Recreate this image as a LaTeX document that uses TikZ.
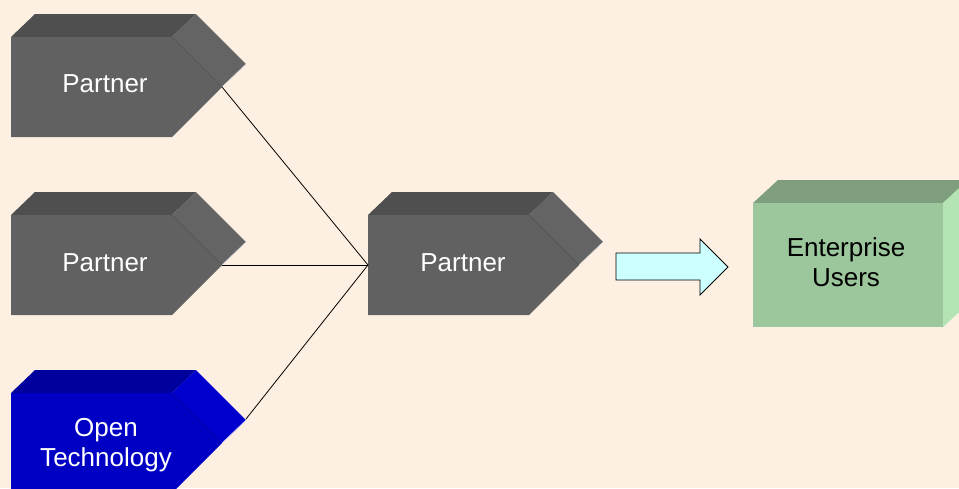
\documentclass[tikz,border=0pt]{standalone}
\usepackage{fontspec}
\setmainfont{Liberation Sans}
\definecolor{bg}{HTML}{FDF0E3}
\definecolor{gfront}{HTML}{616161}
\definecolor{gtop}{HTML}{4F4F4F}
\definecolor{gside}{HTML}{646464}
\definecolor{bfront}{HTML}{0000C4}
\definecolor{btop}{HTML}{00009C}
\definecolor{bside}{HTML}{0000CE}
\definecolor{efront}{HTML}{9CC69C}
\definecolor{etop}{HTML}{7E9E7E}
\definecolor{eside}{HTML}{B4E4B4}
\definecolor{arrowfill}{HTML}{CCFFFF}
% #1 left x, #2 front top y, #3 front, #4 top, #5 side
\newcommand{\myblock}[5]{%
  \fill[#4] (#1,#2) -- ({#1+24},{#2-23}) -- ({#1+185},{#2-23}) -- ({#1+161},#2) -- cycle;
  \fill[#5] ({#1+161},#2) -- ({#1+185},{#2-23}) -- ({#1+235},{#2+27}) -- ({#1+211},{#2+50}) -- cycle;
  \fill[#3] (#1,#2) -- ({#1+161},#2) -- ({#1+211},{#2+50}) -- ({#1+161},{#2+100}) -- (#1,{#2+100}) -- cycle;
  \draw[#3!80!black, line width=0.6pt] ({#1+161},#2) -- ({#1+211},{#2+50});
  \draw[white!75!#5, line width=0.6pt] ({#1+211},{#2+50}) -- ({#1+235},{#2+27});
}
\tikzset{
  lbl/.style={font=\fontsize{26}{30}\selectfont, align=center, inner sep=0pt},
  wire/.style={draw=black, line width=0.8pt},
}
\begin{document}
\begin{tikzpicture}[x=1pt,y=-1pt]
\fill[bg] (0,0) rectangle (959,488);
\useasboundingbox (0,0) rectangle (959,488);
\clip (0,0) rectangle (959,488);
% blocks
\myblock{11}{37}{gfront}{gtop}{gside}
\myblock{11}{215}{gfront}{gtop}{gside}
\myblock{11}{393}{bfront}{btop}{bside}
\myblock{368}{215}{gfront}{gtop}{gside}
% enterprise box
\fill[etop] (753,203) -- (778,180) -- (968,180) -- (943,203) -- cycle;
\fill[eside] (943,203) -- (968,180) -- (968,304) -- (943,327) -- cycle;
\fill[efront] (753,203) rectangle (943,327);
% anchor coordinates
\coordinate (t1) at (222,87);
\coordinate (t2) at (222,265);
\coordinate (t3) at (246,419);
\coordinate (cin) at (368,265);
% labels
\node[lbl, text=white] (p1) at (105,84) {Partner};
\node[lbl, text=white] (p2) at (105,263) {Partner};
\node[lbl, text=white] (ot) at (106,445) {Open\\Technology};
\node[lbl, text=white] (pc) at (463,263) {Partner};
\node[lbl, text=black] (eu) at (846,262) {Enterprise\\Users};
% connectors
\draw[wire] (t1) -- (cin);
\draw[wire] (t2) -- (cin);
\draw[wire] (t3) -- (cin);
% block arrow
\draw[fill=arrowfill, draw=black, line width=0.9pt, line join=miter]
  (616,253) -- (700,253) -- (700,239) -- (728,267) -- (700,295) -- (700,280) -- (616,280) -- cycle;
\end{tikzpicture}
\end{document}
